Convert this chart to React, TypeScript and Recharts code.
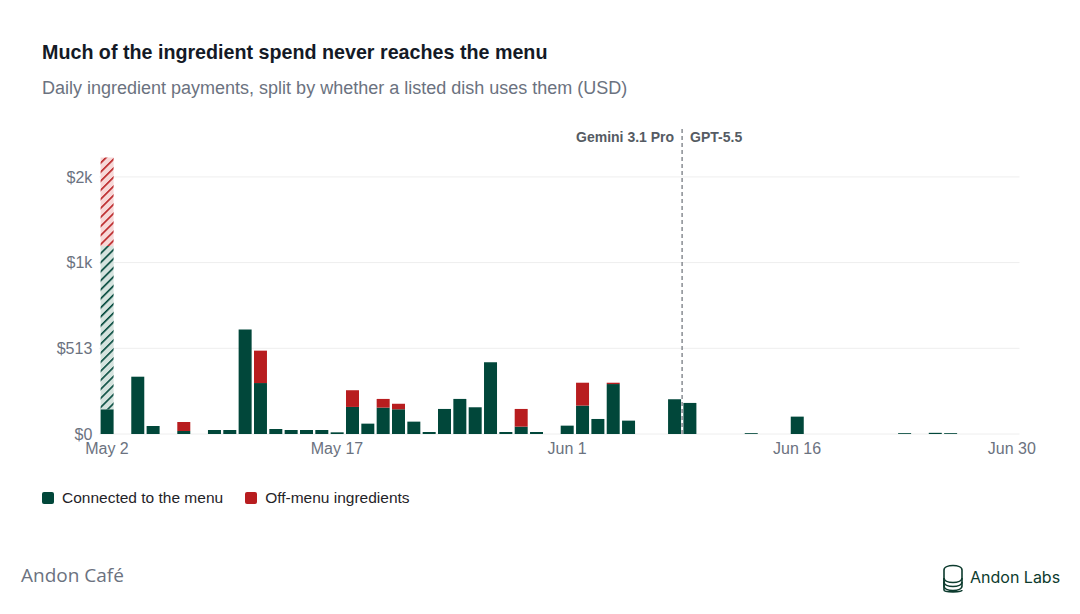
import React from "react";
import { BarChart, Bar, XAxis, YAxis, CartesianGrid, ReferenceLine } from "recharts";

// ---- Data (USD per day) ----
const days: string[] = [
  "May 2", "May 3", "May 4", "May 5", "May 6", "May 7", "May 8", "May 9", "May 10", "May 11",
  "May 12", "May 13", "May 14", "May 15", "May 16", "May 17", "May 18", "May 19", "May 20", "May 21",
  "May 22", "May 23", "May 24", "May 25", "May 26", "May 27", "May 28", "May 29", "May 30", "May 31",
  "Jun 1", "Jun 2", "Jun 3", "Jun 4", "Jun 5", "Jun 6", "Jun 7", "Jun 8", "Jun 9", "Jun 10",
  "Jun 11", "Jun 12", "Jun 13", "Jun 14", "Jun 15", "Jun 16", "Jun 17", "Jun 18", "Jun 19", "Jun 20",
  "Jun 21", "Jun 22", "Jun 23", "Jun 24", "Jun 25", "Jun 26", "Jun 27", "Jun 28", "Jun 29", "Jun 30",
];

// Connected to the menu
const connected: number[] = [
  148, 0, 343, 48, 0, 18, 0, 24, 24, 620,
  305, 30, 24, 24, 24, 10, 162, 62, 158, 148,
  74, 12, 150, 210, 160, 429, 12, 44, 12, 0,
  50, 170, 90, 299, 80, 0, 0, 208, 186, 0,
  0, 0, 5, 0, 0, 104, 0, 0, 0, 0,
  0, 0, 5, 0, 7, 5, 0, 0, 0, 0,
];

// Off-menu ingredients
const offMenu: number[] = [
  0, 0, 0, 0, 0, 54, 0, 0, 0, 0,
  194, 0, 0, 0, 0, 0, 100, 0, 52, 33,
  0, 0, 0, 0, 0, 0, 0, 106, 0, 0,
  0, 137, 0, 8, 0, 0, 0, 0, 0, 0,
  0, 0, 0, 0, 0, 0, 0, 0, 0, 0,
  0, 0, 0, 0, 0, 0, 0, 0, 0, 0,
];

// Opening-day stock (hatched, beyond the linear part of the axis)
const connectedHatched: number[] = [1047, ...new Array(59).fill(0)];
const offMenuHatched: number[] = [1030, ...new Array(59).fill(0)];

// Axis (broken scale): tick values and their labels
const yTickValues: number[] = [0, 513, 1000, 2000];
const yTickLabels: string[] = ["$0", "$513", "$1k", "$2k"];
const xTickLabels: string[] = ["May 2", "May 17", "Jun 1", "Jun 16", "Jun 30"];

const GREEN = "#01473a";
const RED = "#b81d1f";

// piecewise-linear mapping of USD onto the axis (each tick step is one unit)
function toAxis(v: number): number {
  const s = yTickValues;
  for (let i = 1; i < s.length; i++) {
    if (v <= s[i] || i === s.length - 1) {
      return i - 1 + (v - s[i - 1]) / (s[i] - s[i - 1]);
    }
  }
  return 0;
}

const axisTicks = yTickValues.map((v) => toAxis(v));

const data = days.map((d, i) => {
  const c1 = connected[i];
  const c2 = c1 + connectedHatched[i];
  const c3 = c2 + offMenuHatched[i];
  const c4 = c3 + offMenu[i];
  return {
    day: d,
    g: toAxis(c1),
    gh: toAxis(c2) - toAxis(c1),
    rh: toAxis(c3) - toAxis(c2),
    r: toAxis(c4) - toAxis(c3),
  };
});

const FONT = "'Liberation Sans', Arial, Helvetica, sans-serif";

const ModelLabels = (props: any) => {
  const { viewBox } = props;
  const x = viewBox.x;
  const y = viewBox.y;
  return (
    <g>
      <text x={x - 8} y={y + 16} textAnchor="end" fontSize={14} fontWeight={700} fill="#555b63" fontFamily={FONT}>
        Gemini 3.1 Pro
      </text>
      <text x={x + 8} y={y + 16} textAnchor="start" fontSize={14} fontWeight={700} fill="#555b63" fontFamily={FONT}>
        GPT-5.5
      </text>
    </g>
  );
};

const Logo = () => (
  <svg width="22" height="32" viewBox="0 0 22 32">
    <g fill="none" stroke="#0d3b2e" strokeWidth="1.6">
      <path d="M2 9 C2 3 20 3 20 9 L20 17 C20 23 2 23 2 17 Z" />
      <path d="M2 17 L2 21 C2 27 20 27 20 21 L20 17" />
      <path d="M2 21 L2 25 C2 31 20 31 20 25 L20 21" />
      <path d="M2 17 L2 29 C2 31.5 20 31.5 20 29" />
    </g>
  </svg>
);

export default function App() {
  return (
    <div style={{ position: "absolute", left: 0, top: 0, width: 1080, height: 614, background: "#fff", fontFamily: FONT }}>
      <div style={{ position: "absolute", left: 42, top: 42, fontSize: 19.7, lineHeight: "20px", fontWeight: 700, color: "#141a26" }}>
        Much of the ingredient spend never reaches the menu
      </div>
      <div style={{ position: "absolute", left: 42, top: 79, fontSize: 18, lineHeight: "18px", color: "#6b7280" }}>
        Daily ingredient payments, split by whether a listed dish uses them (USD)
      </div>

      <div style={{ position: "absolute", left: 0, top: 0 }}>
        <BarChart
          width={1080}
          height={470}
          data={data}
          margin={{ top: 126, right: 60.5, bottom: 6, left: 0 }}
          barCategoryGap="8.5%"
          style={{ fontFamily: FONT }}
        >
          <defs>
            <pattern id="hatchGreen" patternUnits="userSpaceOnUse" width="6.4" height="6.4" patternTransform="rotate(45)">
              <rect width="6.4" height="6.4" fill="#d5e3de" />
              <line x1="0.8" y1="0" x2="0.8" y2="6.4" stroke={GREEN} strokeWidth="1.6" />
            </pattern>
            <pattern id="hatchRed" patternUnits="userSpaceOnUse" width="6.4" height="6.4" patternTransform="rotate(45)">
              <rect width="6.4" height="6.4" fill="#f7d8d8" />
              <line x1="0.8" y1="0" x2="0.8" y2="6.4" stroke={RED} strokeWidth="1.6" />
            </pattern>
          </defs>
          <CartesianGrid vertical={false} stroke="#eeeeee" syncWithTicks />
          <XAxis
            dataKey="day"
            ticks={xTickLabels}
            interval={0}
            axisLine={false}
            tickLine={false}
            tickMargin={3}
            tick={{ fontSize: 16, fill: "#6b7280" }}
          />
          <YAxis
            width={99.3}
            domain={[0, 3.594]}
            ticks={axisTicks}
            tickFormatter={(v: number) => yTickLabels[Math.round(v)]}
            axisLine={false}
            tickLine={false}
            tickMargin={1}
            tick={{ fontSize: 16, fill: "#6b7280" }}
          />
          <Bar dataKey="g" stackId="a" fill={GREEN} isAnimationActive={false} />
          <Bar dataKey="gh" stackId="a" fill="url(#hatchGreen)" isAnimationActive={false} />
          <Bar dataKey="rh" stackId="a" fill="url(#hatchRed)" isAnimationActive={false} />
          <Bar dataKey="r" stackId="a" fill={RED} isAnimationActive={false} />
          <ReferenceLine
            x="Jun 9"
            position="start"
            stroke="#777b82"
            strokeWidth={1.3}
            strokeDasharray="4 3"
            label={<ModelLabels />}
          />
        </BarChart>
      </div>

      {/* Legend */}
      <div style={{ position: "absolute", left: 42, top: 490, display: "flex", alignItems: "center", fontSize: 15.5, color: "#1f2328", lineHeight: "16px" }}>
        <span style={{ width: 12, height: 12, borderRadius: 2, background: GREEN, display: "inline-block", marginRight: 8 }} />
        <span style={{ marginRight: 22 }}>Connected to the menu</span>
        <span style={{ width: 12, height: 12, borderRadius: 2, background: RED, display: "inline-block", marginRight: 8 }} />
        <span>Off-menu ingredients</span>
      </div>

      {/* Footer */}
      <div style={{ position: "absolute", left: 21, top: 565, fontSize: 19, lineHeight: "20px", color: "#6b7280", fontFamily: "'Open Sans', 'Noto Sans', sans-serif" }}>
        Andon Café
      </div>
      <div style={{ position: "absolute", left: 942, top: 561, display: "flex", alignItems: "center" }}>
        <Logo />
        <span style={{ marginLeft: 6, fontSize: 16, color: "#0d3b2e", fontFamily: "Inter, sans-serif" }}>Andon Labs</span>
      </div>
    </div>
  );
}
